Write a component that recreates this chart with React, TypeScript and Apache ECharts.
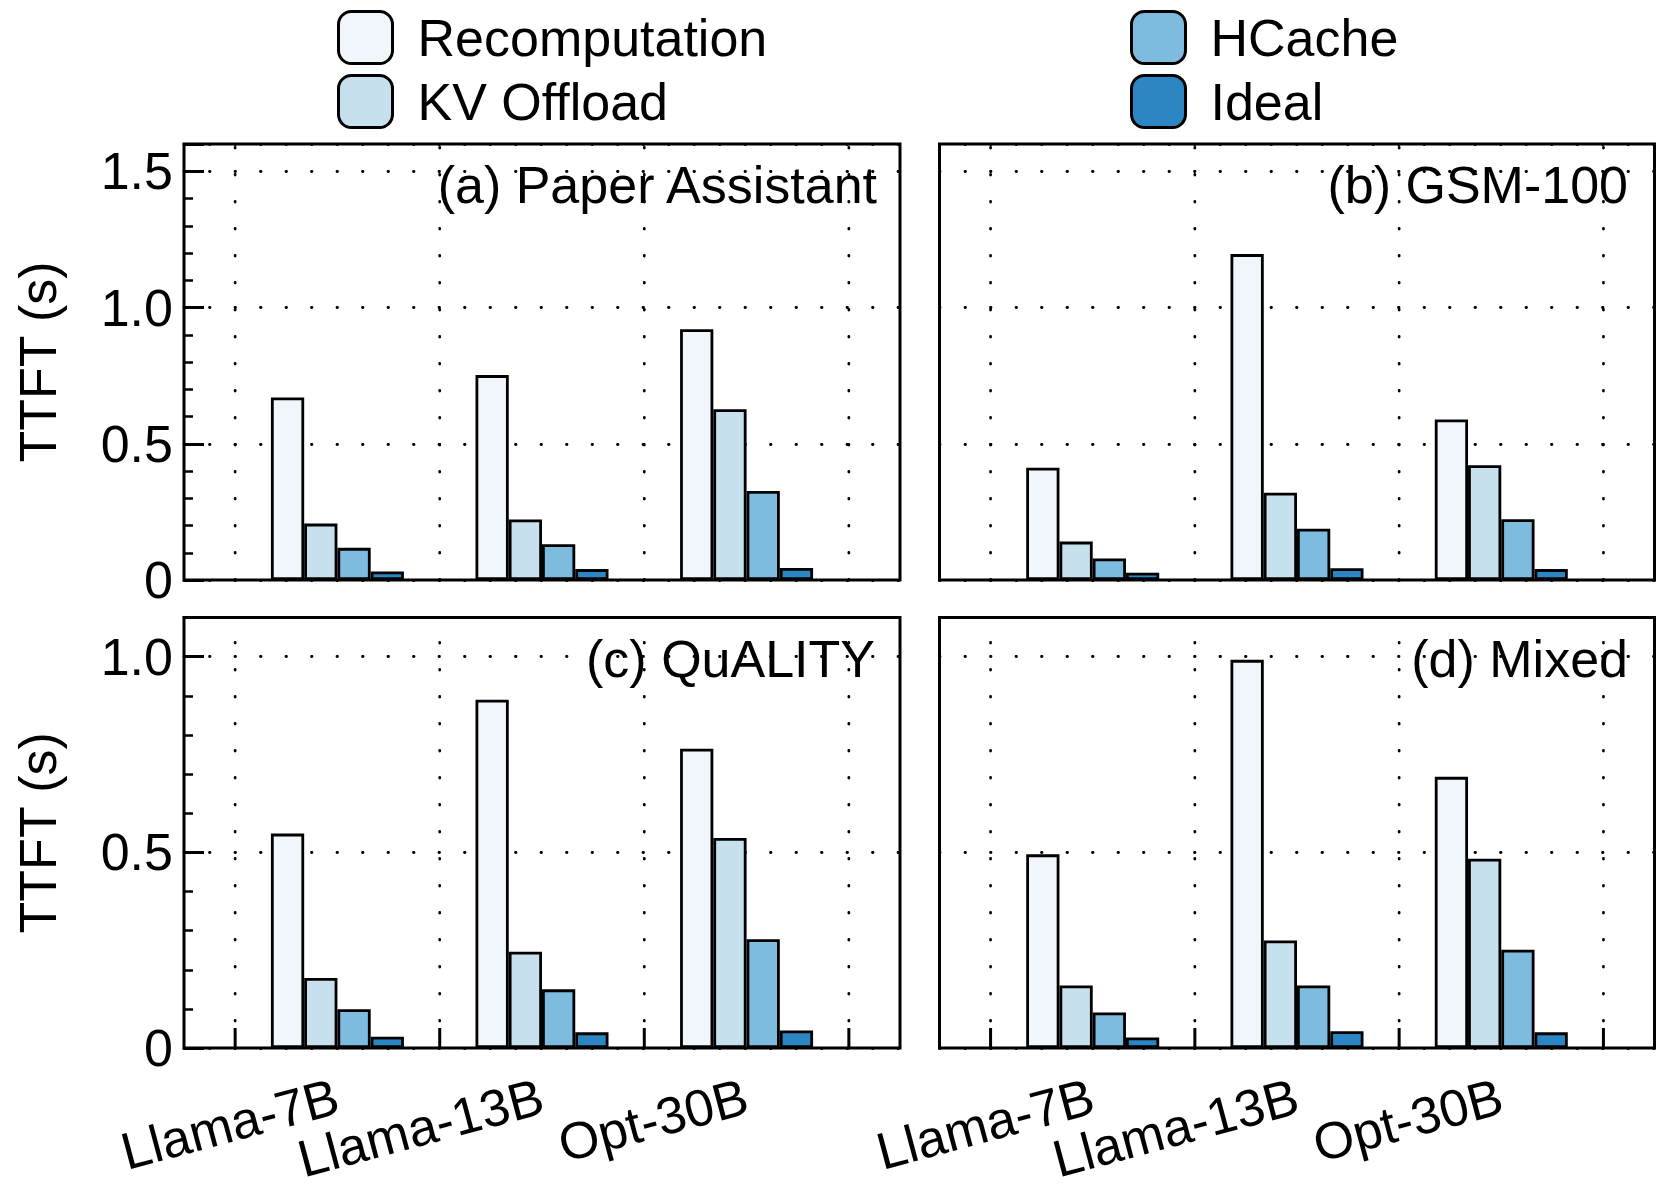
import React, { useEffect, useRef } from 'react';
import * as echarts from 'echarts';

// ---------- data ----------
const models = ['Llama-7B', 'Llama-13B', 'Opt-30B'];
const methods = ['Recomputation', 'KV Offload', 'HCache', 'Ideal'];
const colors = ['#f1f6fd', '#c7e0ed', '#7dbbdf', '#2b86c3'];

const paperRecomp = [0.67, 0.752, 0.92];
const paperKV = [0.207, 0.222, 0.627];
const paperHCache = [0.118, 0.131, 0.327];
const paperIdeal = [0.031, 0.04, 0.044];

const gsmRecomp = [0.412, 1.196, 0.589];
const gsmKV = [0.141, 0.32, 0.421];
const gsmHCache = [0.079, 0.188, 0.223];
const gsmIdeal = [0.027, 0.043, 0.04];

const qualityRecomp = [0.548, 0.89, 0.765];
const qualityKV = [0.179, 0.246, 0.537];
const qualityHCache = [0.099, 0.15, 0.278];
const qualityIdeal = [0.029, 0.04, 0.045];

const mixedRecomp = [0.495, 0.992, 0.693];
const mixedKV = [0.16, 0.275, 0.484];
const mixedHCache = [0.091, 0.16, 0.251];
const mixedIdeal = [0.027, 0.043, 0.04];

const panelTitles = ['(a) Paper Assistant', '(b) GSM-100', '(c) QuALITY', '(d) Mixed'];
const yTickValues = [0, 0.5, 1.0, 1.5];
const yTickLabels = ['0', '0.5', '1.0', '1.5'];
const yAxisTitle = 'TTFT (s)';

// category slots: spacer slots (where the x gridlines/ticks sit) alternate with model slots
const slots = ['s0', models[0], 's1', models[1], 's2', models[2], 's3'];
// x gridline / tick positions, in slot units on a 0..7 value axis (centres of the spacer slots)
const xGridPositions = [0.5, 2.5, 4.5, 6.5];

const FONT = "'Liberation Sans', Arial, Helvetica, sans-serif";

const panels = [
  { title: panelTitles[0], values: [paperRecomp, paperKV, paperHCache, paperIdeal], yMax: 1.6, left: 184, top: 144, width: 716, height: 436, showY: true, showX: false, titleX: 877, titleY: 185 },
  { title: panelTitles[1], values: [gsmRecomp, gsmKV, gsmHCache, gsmIdeal], yMax: 1.6, left: 939.5, top: 144, width: 715, height: 436, showY: false, showX: false, titleX: 1628, titleY: 185 },
  { title: panelTitles[2], values: [qualityRecomp, qualityKV, qualityHCache, qualityIdeal], yMax: 1.1, left: 184, top: 617.6, width: 716, height: 436.4, showY: true, showX: true, titleX: 875, titleY: 659 },
  { title: panelTitles[3], values: [mixedRecomp, mixedKV, mixedHCache, mixedIdeal], yMax: 1.1, left: 939.5, top: 617.6, width: 715, height: 436.4, showY: false, showX: true, titleX: 1628, titleY: 659 },
];

const toSlots = (vals: number[]) => [null, vals[0], null, vals[1], null, vals[2], null];

const dotH = { color: '#000', width: 2.8, type: [0.5, 25] as number[], cap: 'round' as const };

const yFormatter = (v: number) => {
  const k = yTickValues.findIndex((t) => Math.abs(t - v) < 1e-6);
  return k >= 0 ? yTickLabels[k] : '';
};

function buildOption(): any {
  const grid = panels.map((p) => ({
    left: p.left, top: p.top, width: p.width, height: p.height,
    show: true, borderColor: '#000', borderWidth: 3, backgroundColor: 'transparent',
  }));

  const xAxis: any[] = panels.map((p, i) => ({
    type: 'category', gridIndex: i, data: slots, boundaryGap: true,
    axisLine: { show: false },
    axisTick: { show: false },
    axisLabel: {
      show: p.showX, interval: (idx: number) => idx % 2 === 1,
      rotate: 15, margin: 47, fontSize: 52, color: '#000', fontFamily: FONT,
    },
    splitLine: { show: false },
  }));
  panels.forEach((p, i) => {
    xAxis.push({ type: 'value', gridIndex: i, min: 0, max: slots.length, show: false });
  });

  const yAxis: any[] = [];
  panels.forEach((p, i) => {
    yAxis.push({
      type: 'value', gridIndex: i, position: 'left', min: 0, max: p.yMax, interval: 0.5,
      axisLine: { show: false },
      axisTick: { show: p.showY, inside: true, length: 20, lineStyle: { color: '#000', width: 3 } },
      axisLabel: { show: p.showY, margin: 11, fontSize: 52, color: '#000', fontFamily: FONT, formatter: yFormatter },
      splitLine: { show: true, lineStyle: dotH },
      name: p.showY ? yAxisTitle : '',
      nameLocation: 'middle', nameGap: 120,
      nameTextStyle: { fontSize: 52, lineHeight: 52, color: '#000', fontFamily: FONT },
    });
    yAxis.push({
      type: 'value', gridIndex: i, position: 'left', min: 0, max: p.yMax, interval: 0.1,
      axisLine: { show: false },
      axisTick: { show: p.showY, inside: true, length: 9, lineStyle: { color: '#000', width: 2.5 } },
      axisLabel: { show: false },
      splitLine: { show: false },
    });
  });

  const series: any[] = [];
  panels.forEach((p, i) => {
    // vertical dotted gridlines + bottom ticks
    series.push({
      type: 'custom', xAxisIndex: panels.length + i, yAxisIndex: 2 * i, silent: true, z: 1,
      data: xGridPositions.map((x) => [x, 0]),
      encode: { x: 0, y: 1 },
      renderItem: (params: any, api: any) => {
        const x = api.value(0);
        const b = api.coord([x, 0]);
        const t = api.coord([x, p.yMax]);
        const children: any[] = [
          {
            type: 'line',
            shape: { x1: b[0], y1: b[1], x2: t[0], y2: t[1] },
            style: { stroke: '#000', lineWidth: 2.8, lineDash: [0.5, 26.5], lineCap: 'round', fill: null },
          },
        ];
        if (p.showX) {
          children.push({
            type: 'line',
            shape: { x1: b[0], y1: b[1], x2: b[0], y2: b[1] - 20 },
            style: { stroke: '#000', lineWidth: 3, fill: null },
          });
        }
        return { type: 'group', children };
      },
    });
    methods.forEach((m, j) => {
      series.push({
        type: 'bar', name: m, xAxisIndex: i, yAxisIndex: 2 * i,
        data: toSlots(p.values[j]),
        barWidth: 33.25, barGap: '0%',
        itemStyle: { color: colors[j], borderColor: '#000', borderWidth: 2.8 },
        emphasis: { disabled: true },
        z: 2,
      });
    });
  });

  const legendCommon = {
    orient: 'vertical', itemWidth: 54, itemHeight: 52, itemGap: 9, icon: 'roundRect',
    padding: 0, selectedMode: false,
    itemStyle: { borderColor: '#000', borderWidth: 3 },
    textStyle: { fontSize: 52, lineHeight: 52, color: '#000', fontFamily: FONT, padding: [0, 0, 0, 20] },
  };
  const legend = [
    { ...legendCommon, data: methods.slice(0, 2), left: 337, top: 10 },
    { ...legendCommon, data: methods.slice(2), left: 1130, top: 10 },
  ];

  const graphic = panels.map((p) => ({
    type: 'text', x: p.titleX, y: p.titleY, z: 1, silent: true,
    style: {
      text: p.title, fontSize: 52, fontFamily: FONT, fill: '#000',
      align: 'right', verticalAlign: 'middle', textAlign: 'right', textVerticalAlign: 'middle',
    },
  }));

  return {
    animation: false,
    backgroundColor: '#fff',
    textStyle: { fontFamily: FONT },
    grid, xAxis, yAxis, series, legend, graphic,
  };
}

export default function App() {
  const ref = useRef<HTMLDivElement>(null);
  useEffect(() => {
    const chart = echarts.init(ref.current as HTMLDivElement, null, { renderer: 'svg' });
    chart.setOption(buildOption());
    return () => chart.dispose();
  }, []);
  return (
    <div
      ref={ref}
      style={{ position: 'fixed', left: 0, top: 0, width: 1661, height: 1186, background: '#fff' }}
    />
  );
}
